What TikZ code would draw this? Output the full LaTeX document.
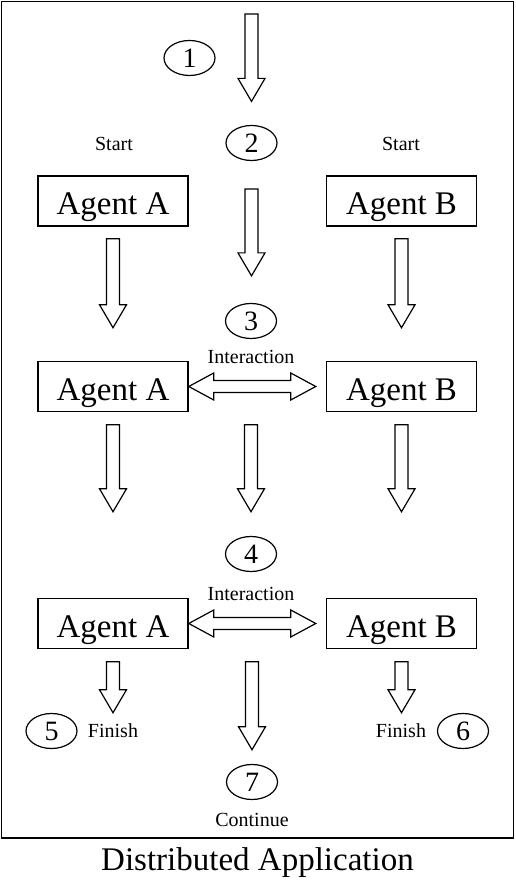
\documentclass[tikz,border=0pt]{standalone}
\usepackage{fontspec}
\setmainfont{Liberation Serif}
\usetikzlibrary{shapes.geometric,calc}
\tikzset{
	agent/.style={draw,line width=1.5pt,minimum width=150pt,minimum height=50pt,inner sep=0pt,text height=28pt,text depth=0pt,font=\fontsize{33}{33}\selectfont},
	num/.style={ellipse,draw,line width=1.2pt,minimum width=51pt,minimum height=35pt,inner sep=0pt,font=\fontsize{28}{28}\selectfont},
	lbl/.style={inner sep=0pt,font=\fontsize{20}{20}\selectfont},
	blockdown/.style={line width=1.2pt,to path={let \p1=(\tikztostart),\p2=(\tikztotarget) in
		(\x1-6.5pt,\y1) -- (\x1-6.5pt,\y2+23pt) -- (\x1-13.5pt,\y2+23pt) -- (\x1,\y2)
		-- (\x1+13.5pt,\y2+23pt) -- (\x1+6.5pt,\y2+23pt) -- (\x1+6.5pt,\y1) -- cycle}},
	blockboth/.style={line width=1.2pt,to path={let \p1=(\tikztostart),\p2=(\tikztotarget) in
		(\x1,\y1) -- (\x1+25pt,\y1+13.5pt) -- (\x1+25pt,\y1+6pt) -- (\x2-25pt,\y1+6pt)
		-- (\x2-25pt,\y1+13.5pt) -- (\x2,\y1) -- (\x2-25pt,\y1-13.5pt) -- (\x2-25pt,\y1-6pt)
		-- (\x1+25pt,\y1-6pt) -- (\x1+25pt,\y1-13.5pt) -- cycle}}
}
\begin{document}
\begin{tikzpicture}[x=1pt,y=1pt]
	\useasboundingbox (0,0) rectangle (515,886);
	\draw[line width=1.5pt] (1.5,48) rectangle (513.5,884.5);
	\node[anchor=base,inner sep=0pt,font=\fontsize{33}{33}\selectfont] (title) at (257.5,15) {Distributed Application};
	% phases
	\node[num] (n1) at (189.5,828) {1};
	\node[num] (n2) at (251.5,743) {2};
	\node[num] (n3) at (251,565) {3};
	\node[num] (n4) at (251,332) {4};
	\node[num] (n5) at (51.5,155) {5};
	\node[num] (n6) at (463,155) {6};
	\node[num] (n7) at (252,104) {7};
	% agents
	\node[agent] (agA1) at (113,685) {Agent A};
	\node[agent] (agB1) at (401.5,685) {Agent B};
	\node[agent] (agA2) at (113,499.5) {Agent A};
	\node[agent] (agB2) at (401.5,499.5) {Agent B};
	\node[agent] (agA3) at (113,262.5) {Agent A};
	\node[agent] (agB3) at (401.5,262.5) {Agent B};
	% labels
	\node[lbl] (startA) at (114,742) {Start};
	\node[lbl] (startB) at (401,742) {Start};
	\node[lbl] (inter1) at (251,529) {Interaction};
	\node[lbl] (inter2) at (251,292) {Interaction};
	\node[lbl] (finA) at (113,155) {Finish};
	\node[lbl] (finB) at (401,155) {Finish};
	\node[lbl] (cont) at (252,66) {Continue};
	% arrows
	\coordinate (entry) at (251.5,872);
	\draw[blockdown] (entry) to ([yshift=23.5pt]n2.north);
	\draw[blockdown] ([yshift=-28pt]n2.south) to ([yshift=27pt]n3.north);
	\foreach \ag in {agA1,agB1} \draw[blockdown] ([yshift=-12pt]\ag.south) to ++(0,-89);
	\foreach \ag in {agA2,agB2} \draw[blockdown] ([yshift=-12.5pt]\ag.south) to ++(0,-87);
	\draw[blockdown] ($(agA2.south -| n3)+(0,-12.5)$) to ++(0,-87);
	\foreach \ag in {agA3,agB3} \draw[blockdown] ([yshift=-12.5pt]\ag.south) to ++(0,-51);
	\draw[blockdown] ($(agA3.south -| n7)+(0,-12.5)$) to ++(0,-88);
	\draw[blockboth] (agA2.east) to ([xshift=-10pt]agB2.west);
	\draw[blockboth] (agA3.east) to ([xshift=-10pt]agB3.west);
\end{tikzpicture}
\end{document}
